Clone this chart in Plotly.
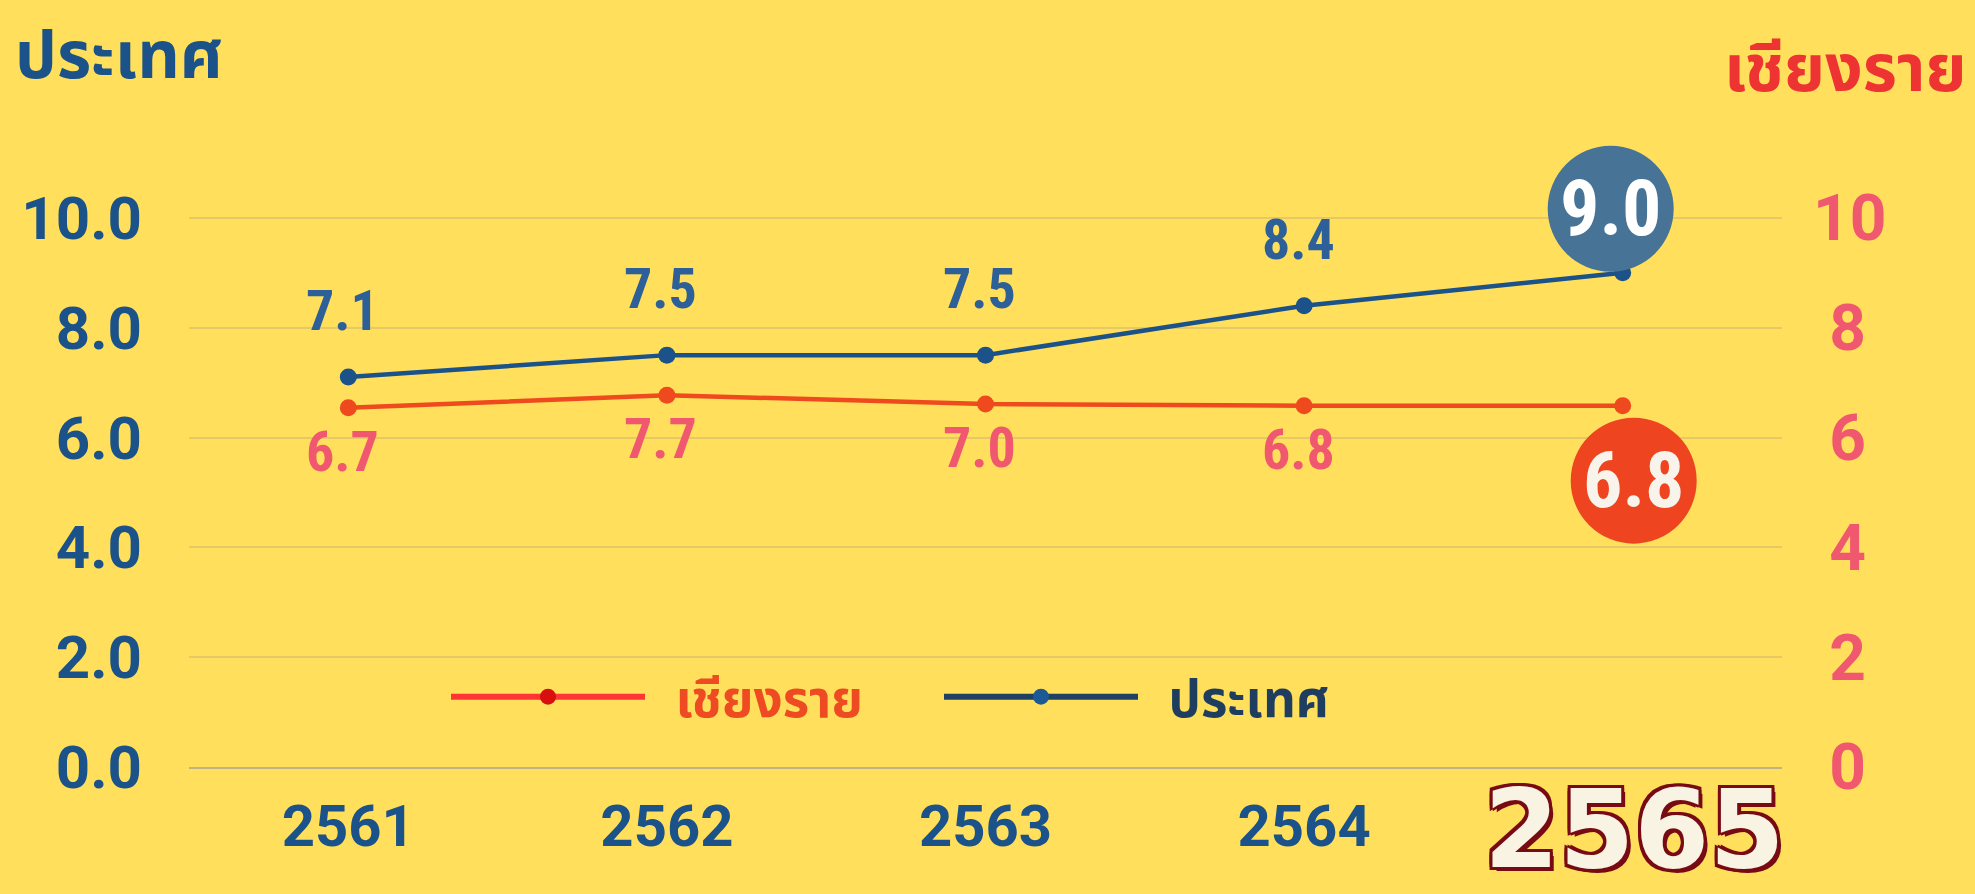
import plotly.graph_objects as go

# ---------------- data ----------------
years = ["2561", "2562", "2563", "2564", "2565"]
country_values = [7.1, 7.5, 7.5, 8.4, 9.0]
country_labels = ["7.1", "7.5", "7.5", "8.4", "9.0"]
# Chiang Rai: labels as printed, and the heights at which the points are drawn in the picture
chiangrai_labels = ["6.7", "7.7", "7.0", "6.8", "6.8"]
chiangrai_drawn = [6.54, 6.77, 6.61, 6.58, 6.58]
left_tickvals = [0, 2, 4, 6, 8, 10]
left_ticktext = ["0.0", "2.0", "4.0", "6.0", "8.0", "10.0"]
right_tickvals = [0, 2, 4, 6, 8, 10]
right_ticktext = ["0", "2", "4", "6", "8", "10"]
name_country = "ประเทศ"
name_chiangrai = "เชียงราย"

xpos = list(range(len(years)))  # category positions
last = xpos[-1]

# ---------------- style ----------------
BG = "#ffdf5b"
BLUE = "#1a5289"
BLUE_LABEL = "#2d5f98"
BLUE_CIRCLE = "#467396"
RED_LINE = "#ee4a1e"
PINK = "#f0586f"
TITLE_RED = "#ee3333"
THAI = "Noto Sans Thai, Kanit, Noto Sans, sans-serif"
NUM = "Roboto, Noto Sans, sans-serif"
NARROW = "Liberation Sans Narrow, Roboto Condensed, Roboto, sans-serif"
WIDE = "DejaVu Sans, Roboto, sans-serif"

W, H = 1975, 894
ML, MR, MT, MB = 189, 193, 108, 127

fig = go.Figure()

# series (legend drawn by separate legend-style entries below)
fig.add_trace(go.Scatter(
    x=xpos, y=chiangrai_drawn, yaxis="y2", name=name_chiangrai, showlegend=False,
    mode="lines+markers",
    line=dict(color=RED_LINE, width=4.5),
    marker=dict(color=RED_LINE, size=17),
    hoverinfo="skip",
))
fig.add_trace(go.Scatter(
    x=xpos, y=country_values, yaxis="y", name=name_country, showlegend=False,
    mode="lines+markers",
    line=dict(color=BLUE, width=4.5),
    marker=dict(color=BLUE, size=17),
    hoverinfo="skip",
))
# legend entries (no data; they only carry the legend styling of the reference)
fig.add_trace(go.Scatter(
    x=[None], y=[None], yaxis="y2",
    name='\u2002<span style="color:#ee4b22">' + name_chiangrai + '</span>',
    mode="lines+markers", line=dict(color="#ff3535", width=6),
    marker=dict(color="#d80f0f", size=16), hoverinfo="skip",
))
fig.add_trace(go.Scatter(
    x=[None], y=[None], yaxis="y",
    name='\u2002<span style="color:#1e3d5f">' + name_country + '</span>',
    mode="lines+markers", line=dict(color="#1e4163", width=6),
    marker=dict(color="#1b5a94", size=16), hoverinfo="skip",
))

annotations = []
# data labels (all but the highlighted last year)
for i in xpos[:-1]:
    annotations.append(dict(
        x=i, y=country_values[i], xref="x", yref="y",
        text=country_labels[i], showarrow=False, yshift=66, xshift=-6,
        font=dict(family=NARROW, size=56, color=BLUE_LABEL, weight="bold"),
    ))
    annotations.append(dict(
        x=i, y=chiangrai_drawn[i], xref="x", yref="y2",
        text=chiangrai_labels[i], showarrow=False, yshift=-44, xshift=-6,
        font=dict(family=NARROW, size=56, color=PINK, weight="bold"),
    ))

# highlighted last year values inside circles
shapes = [
    dict(type="circle", xref="x", yref="y", xsizemode="pixel", ysizemode="pixel",
         xanchor=last, yanchor=country_values[-1],
         x0=-75, x1=51, y0=1, y1=127,
         fillcolor=BLUE_CIRCLE, line=dict(width=0), layer="above"),
    dict(type="circle", xref="x", yref="y2", xsizemode="pixel", ysizemode="pixel",
         xanchor=last, yanchor=chiangrai_drawn[-1],
         x0=-52, x1=74, y0=-138, y1=-12,
         fillcolor="#ee4520", line=dict(width=0), layer="above"),
]
annotations.append(dict(
    x=last, y=country_values[-1], xref="x", yref="y",
    text=country_labels[-1], showarrow=False, xshift=-12, yshift=64,
    font=dict(family=NARROW, size=78, color="white", weight="bold"),
))
annotations.append(dict(
    x=last, y=chiangrai_drawn[-1], xref="x", yref="y2",
    text=chiangrai_labels[-1], showarrow=False, xshift=11, yshift=-75,
    font=dict(family=NARROW, size=78, color="#f8f4ec", weight="bold"),
))

# big outlined last-year label
outline = "#780a14"
annotations.append(dict(
    x=last, y=0, xref="x", yref="paper",
    text=years[-1], showarrow=False, xanchor="center", yanchor="top",
    xshift=12, yshift=2,
    font=dict(family=WIDE, size=108, color="#f8f3e3", weight="bold",
              shadow=("4px 4px 0 %s, -3px -3px 0 %s, 3px -3px 0 %s, -3px 3px 0 %s, "
                      "3px 0 0 %s, -3px 0 0 %s, 0 3px 0 %s, 0 -3px 0 %s")
              % ((outline,) * 8)),
))

# corner titles
pw = W - ML - MR
ph = H - MT - MB
annotations.append(dict(
    x=(13 - ML) / pw, y=(H - MB - 58) / ph, xref="paper", yref="paper",
    xanchor="left", yanchor="middle", text=name_country, showarrow=False,
    font=dict(family=THAI, size=66, color=BLUE, weight="bold"),
))
annotations.append(dict(
    x=(W - 6 - ML) / pw, y=(H - MB - 71) / ph, xref="paper", yref="paper",
    xanchor="right", yanchor="middle", text=name_chiangrai, showarrow=False,
    font=dict(family=THAI, size=66, color=TITLE_RED, weight="bold"),
))

fig.update_layout(
    width=W, height=H,
    margin=dict(l=ML, r=MR, t=MT, b=MB, pad=0),
    paper_bgcolor=BG, plot_bgcolor=BG,
    showlegend=True,
    legend=dict(orientation="h", x=(446 - ML) / pw, y=(H - MB - 697) / ph,
                xanchor="left", yanchor="middle", bgcolor="rgba(0,0,0,0)",
                font=dict(family=THAI, size=51, weight="bold"),
                itemwidth=194,
                entrywidth=284, entrywidthmode="pixels", itemclick=False),
    xaxis=dict(range=[-0.5, len(years) - 0.5],
               tickmode="array", tickvals=xpos,
               ticktext=years[:-1] + [""],
               showgrid=False, zeroline=False, showline=True,
               linecolor="#bdb387", linewidth=1.5, ticks="",
               ticklabelstandoff=8,
               tickfont=dict(family=NUM, size=58, color=BLUE, weight="bold")),
    yaxis=dict(range=[0, 12], tickmode="array", tickvals=left_tickvals,
               ticktext=left_ticktext, showgrid=True, gridcolor="#e6c967",
               gridwidth=1.5, zeroline=False, ticks="", ticklabelstandoff=46,
               tickfont=dict(family=NUM, size=60, color=BLUE, weight="bold")),
    yaxis2=dict(range=[0, 12], overlaying="y", side="right", tickmode="array",
                tickvals=right_tickvals,
                ticktext=[("\u2005" + t if len(t) == 1 else t) for t in right_ticktext],
                showgrid=False, zeroline=False, ticks="", ticklabelstandoff=30,
                tickfont=dict(family=NUM, size=64, color=PINK, weight="bold")),
    annotations=annotations,
    shapes=shapes,
)

fig.write_html(
    "out.html",
    config={"displayModeBar": False},
    post_script="document.body.style.margin='0';document.body.style.background='%s';" % BG,
)
